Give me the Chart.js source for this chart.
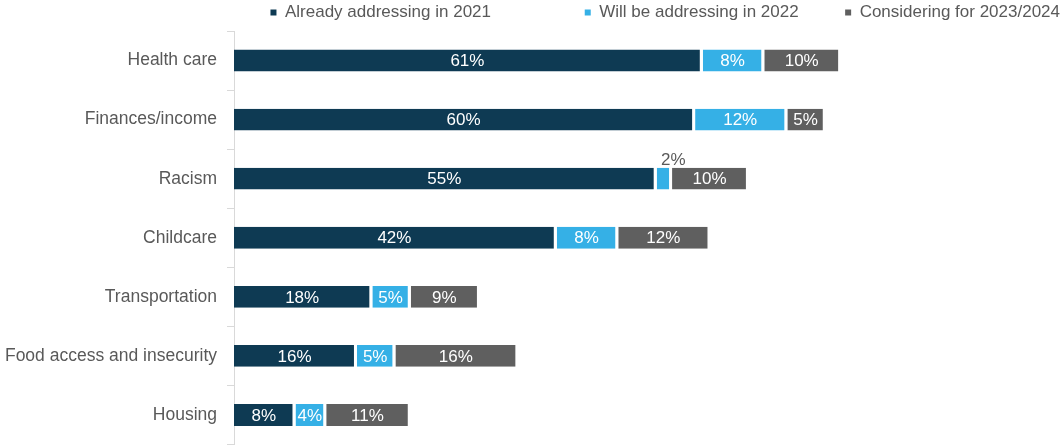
<!DOCTYPE html>
<html>
<head>
<meta charset="utf-8">
<script src="https://cdn.jsdelivr.net/npm/chart.js@4"></script>
<style>
  html, body { margin: 0; padding: 0; background: #fff; }
  #frame { width: 1064px; height: 446px; overflow: hidden; }
  #wrap { width: 1064px; height: 465px; position: relative; }
</style>
</head>
<body>
<div id="frame"><div id="wrap"><canvas id="grafik"></canvas></div></div>
<script>
const categories = [
    "Health care",
    "Finances/income",
    "Racism",
    "Childcare",
    "Transportation",
    "Food access and insecurity",
    "Housing",
];
const already2021 = [61, 60, 55, 42, 18, 16, 8];
const will2022 = [8, 12, 2, 8, 5, 5, 4];
const considering = [10, 5, 10, 12, 9, 16, 11];

const seriesNames = [
    "Already addressing in 2021",
    "Will be addressing in 2022",
    "Considering for 2023/2024",
];
const seriesColors = ["#0e3a53", "#35b0e6", "#5f5f5f"];

const fontFamily = "'Liberation Sans', Arial, sans-serif";

// label tengah bar, yang kecil ditaruh di atas
const labelBar = {
    id: "labelBar",
    afterDatasetsDraw(chart) {
        const ctx = chart.ctx;
        ctx.save();
        ctx.font = "17px " + fontFamily;
        ctx.textAlign = "center";
        chart.data.datasets.forEach((ds, i) => {
            chart.getDatasetMeta(i).data.forEach((bar, j) => {
                const v = ds.data[j];
                const cx = (bar.x + bar.base) / 2 - 1;
                if (v < 3) {
                    ctx.fillStyle = "#595959";
                    ctx.textBaseline = "bottom";
                    ctx.fillText(v + "%", cx + 10, bar.y - bar.height / 2 + 1);
                } else {
                    ctx.fillStyle = "#ffffff";
                    ctx.textBaseline = "middle";
                    ctx.fillText(v + "%", cx, bar.y + 1);
                }
            });
        });
        ctx.restore();
    },
};

const dataSets = [already2021, will2022, considering].map((d, i) => ({
    label: seriesNames[i],
    data: d,
    backgroundColor: seriesColors[i],
    borderColor: "#ffffff",
    borderWidth: { top: 0, bottom: 0, left: 0, right: 3 },
    borderSkipped: false,
    barPercentage: 0.37,
    categoryPercentage: 1,
}));

new Chart(document.getElementById("grafik"), {
    type: "bar",
    data: { labels: categories, datasets: dataSets },
    options: {
        indexAxis: "y",
        responsive: true,
        maintainAspectRatio: false,
        animation: false,
        layout: { padding: 0 },
        scales: {
            x: {
                stacked: true,
                min: 0,
                max: 108,
                display: false,
            },
            y: {
                stacked: true,
                grid: {
                    offset: true,
                    drawOnChartArea: false,
                    tickLength: 7,
                    color: "#d9d9d9",
                },
                border: { color: "#d9d9d9" },
                ticks: {
                    padding: 10,
                    color: "#595959",
                    font: { family: fontFamily, size: 17.5 },
                },
                afterFit(scale) {
                    scale.width = 234;
                },
            },
        },
        plugins: {
            legend: {
                position: "top",
                align: "end",
                labels: {
                    boxWidth: 6,
                    boxHeight: 6,
                    padding: 4,
                    color: "#595959",
                    font: { family: fontFamily, size: 17 },
                    generateLabels(chart) {
                        const gap = [" ".repeat(19), " ".repeat(9), ""];
                        return chart.data.datasets.map((ds, i) => ({
                            text: ds.label + gap[i],
                            fillStyle: ds.backgroundColor,
                            strokeStyle: ds.backgroundColor,
                            lineWidth: 0,
                            fontColor: "#595959",
                            datasetIndex: i,
                        }));
                    },
                },
            },
            tooltip: { enabled: false },
        },
    },
    plugins: [labelBar],
});
</script>
</body>
</html>
